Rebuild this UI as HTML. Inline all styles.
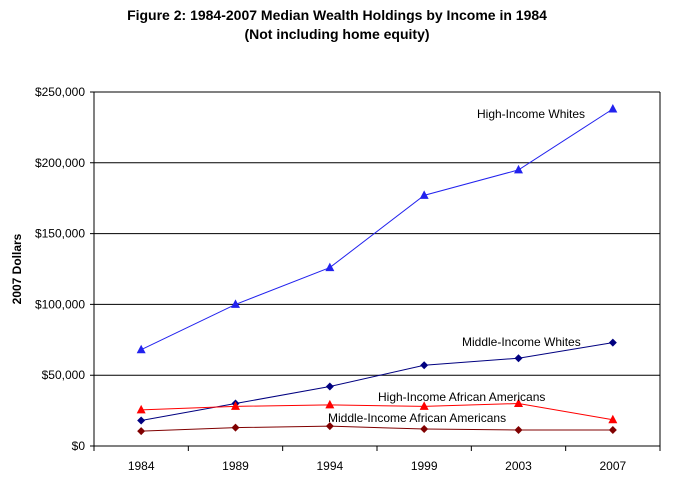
<!DOCTYPE html>
<html><head><meta charset="utf-8"><style>
body{margin:0;background:#fff;font-family:"Liberation Sans",Arial,sans-serif}
svg text{font-family:"Liberation Sans",Arial,sans-serif}
</style></head><body>
<svg width="676" height="474" id="c">
<text x="337" y="20" text-anchor="middle" font-size="14" font-weight="bold">Figure 2: 1984-2007 Median Wealth Holdings by Income  in 1984</text>
<text x="337" y="39" text-anchor="middle" font-size="14" font-weight="bold">(Not including home equity)</text>
<text transform="translate(21,269) rotate(-90)" text-anchor="middle" font-size="12" font-weight="bold">2007 Dollars</text>
</svg>
<script>
const categories=["1984","1989","1994","1999","2003","2007"];
const yTicks=[0,50000,100000,150000,200000,250000];
const yTickLabels=["$0","$50,000","$100,000","$150,000","$200,000","$250,000"];
const highWhites=[68000,100000,126000,177000,195000,238000];
const midWhites=[18000,30000,42000,57000,62000,73000];
const highAA=[25500,28000,29000,28000,30000,18500];
const midAA=[10500,13000,14000,12000,11300,11300];
const svg=document.getElementById('c');const NS="http://www.w3.org/2000/svg";
const L=94,R=660,T=92,B=446,band=(R-L)/categories.length;
const x=i=>L+band*(i+0.5), y=v=>B-(v/250000)*(B-T);
function mk(t,a,p){const e=document.createElementNS(NS,t);for(const k in a)e.setAttribute(k,a[k]);(p||svg).appendChild(e);return e;}
yTicks.forEach((v,i)=>{
 const g=mk('line',{x1:L-4,x2:R,y1:y(v),y2:y(v),stroke:'#000','stroke-width':1});
 
 
 const t=mk('text',{x:L-9,y:y(v)+4,'text-anchor':'end','font-size':12});t.textContent=yTickLabels[i];
 
 
});
const ax=mk('line',{x1:L,x2:L,y1:T,y2:B,stroke:'#000'});


const rb=mk('line',{x1:R,x2:R,y1:T,y2:B,stroke:'#000'});


for(let i=0;i<=categories.length;i++){const k=mk('line',{x1:L+band*i,x2:L+band*i,y1:B,y2:B+5,stroke:'#000'});
 
 }
categories.forEach((c,i)=>{const t=mk('text',{x:x(i),y:B+24,'text-anchor':'middle','font-size':12});t.textContent=c;
 
 });
function series(d,color,shape,name,label,lx,ly){
 const g=mk('g',{});
 
 
 mk('polyline',{points:d.map((v,i)=>x(i)+','+y(v)).join(' '),fill:'none',stroke:color,'stroke-width':1},g);
 d.forEach((v,i)=>{const cx=x(i),cy=y(v);let m;
  if(shape=='tri')m=mk('polygon',{points:`${cx},${cy-5} ${cx-4.5},${cy+3.5} ${cx+4.5},${cy+3.5}`,fill:color},g);
  else m=mk('polygon',{points:`${cx},${cy-4} ${cx+4},${cy} ${cx},${cy+4} ${cx-4},${cy}`,fill:color},g);
  
  });
 const t=mk('text',{x:lx,y:ly,'font-size':12});t.textContent=label;
 
 
}
series(highWhites,'#2222ee','tri','series-high-income-whites','High-Income Whites',477,118);
series(midWhites,'#000080','dia','series-middle-income-whites','Middle-Income Whites',462,346);
series(highAA,'#ff0000','tri','series-high-income-african-americans','High-Income African Americans',378,401);
series(midAA,'#800000','dia','series-middle-income-african-americans','Middle-Income African Americans',328,422);
</script>
</body></html>
